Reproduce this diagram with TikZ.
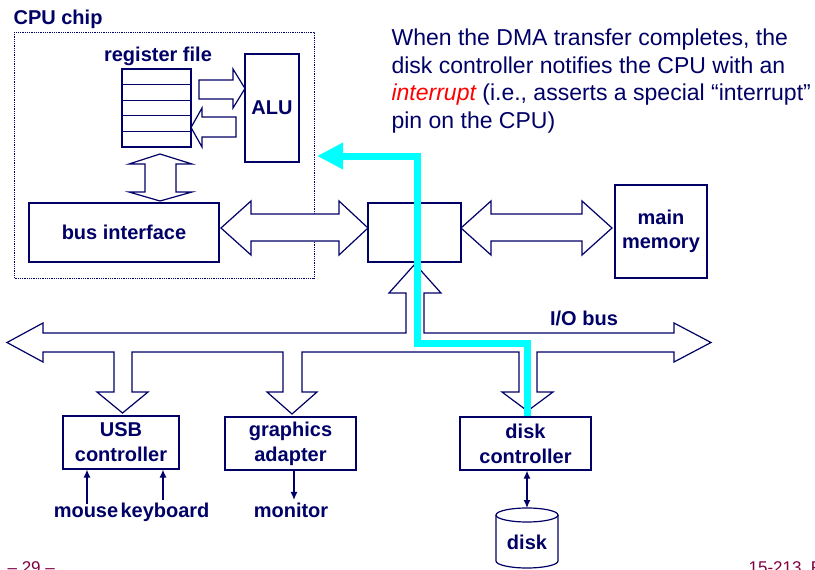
\documentclass[tikz,border=0pt]{standalone}
\usepackage{fontspec}
\setmainfont{Liberation Sans}
\usetikzlibrary{arrows.meta}
\definecolor{cpublue}{RGB}{0,0,102}
\definecolor{footred}{RGB}{128,0,64}
\definecolor{dmacyan}{RGB}{0,255,255}

\begin{document}
\begin{tikzpicture}[x=1pt,y=-1pt,
    cpublue, line width=1.2pt,
    font=\bfseries\fontsize{20}{25}\selectfont,
    box/.style={draw,align=center,inner sep=0pt},
    lbl/.style={anchor=base,inner sep=2pt},
    wire/.style={-{Latex[length=8pt,width=7pt]}},
    fat/.style={draw,fill=white}]

    \useasboundingbox (0,0) rectangle (815,570);

    % cpu chip
    \node[anchor=base west,inner sep=0pt] (cpulbl) at (13,24) {CPU chip};
    \draw[densely dotted,line width=0.8pt] (14,32) rectangle (314,278);

    % register file and alu
    \node[lbl] (reglbl) at (158,61) {register file};
    \node[box,minimum width=69pt,minimum height=78pt] (regs) at (156.5,108) {};
    \foreach \i in {1,...,4} \draw (122,69+15.6*\i) -- (191,69+15.6*\i);
    \node[box,minimum width=54pt,minimum height=108pt] (alu) at (272,108) {ALU};

    \draw[fat] (199,80) -- (233,80) -- (233,69) -- (245,88.5) -- (233,108) -- (233,99) -- (199,99) -- cycle;
    \draw[fat] (236,117) -- (202,117) -- (202,108) -- (191,127.5) -- (202,147) -- (202,137) -- (236,137) -- cycle;
    \draw[fat] (160,154) -- (192,164) -- (176,164) -- (176,192) -- (192,192) -- (160,201) -- (129,192) -- (145,192) -- (145,164) -- (129,164) -- cycle;

    % memory bus
    \node[box,minimum width=190pt,minimum height=59pt] (busif) at (124,232.5) {bus interface};
    \node[box,minimum width=93pt,minimum height=59pt] (bridge) at (414.5,232.5) {};
    \node[box,minimum width=92pt,minimum height=93pt,font=\bfseries\fontsize{20}{23.5}\selectfont] (mem) at (661,231.5) {main\\memory};

    \draw[fat] (221,228) -- (251,201) -- (251,214) -- (339,214) -- (339,201) -- (368,228) -- (339,255) -- (339,241) -- (251,241) -- (251,255) -- cycle;
    \draw[fat] (461,228) -- (491,201) -- (491,214) -- (582,214) -- (582,201) -- (612,228) -- (582,255) -- (582,241) -- (491,241) -- (491,255) -- cycle;

    % i/o bus
    \draw[fat] (43,333) -- (406,333) -- (406,293) -- (389,293) -- (415,264) -- (441,293) -- (424,293) -- (424,333)
        -- (674,333) -- (674,323) -- (711,342.5) -- (674,362) -- (674,352)
        -- (537,352) -- (537,392) -- (553,392) -- (527.5,411) -- (502,392) -- (519,392) -- (519,352)
        -- (302,352) -- (302,392) -- (317,392) -- (292,414) -- (267,392) -- (283,392) -- (283,352)
        -- (132,352) -- (132,392) -- (148,392) -- (122.5,413) -- (97,392) -- (114,392) -- (114,352)
        -- (43,352) -- (43,362) -- (7,342.5) -- (43,323) -- cycle;
    \node[lbl] (iolbl) at (584,325) {I/O bus};

    % devices
    \node[box,minimum width=116pt,minimum height=53pt] (usb) at (121,442.5) {USB\\controller};
    \node[box,minimum width=131pt,minimum height=53pt] (gfx) at (290.5,443.5) {graphics\\adapter};
    \node[box,minimum width=131pt,minimum height=53pt] (dctl) at (525.5,443.5) {disk\\controller};

    \node[lbl] (mouse) at (86,517) {mouse};
    \node[lbl] (kbd) at (165,517) {keyboard};
    \node[lbl] (mon) at (291,517) {monitor};
    \draw[wire] ([xshift=1pt]mouse.north) -- ([xshift=1pt]mouse.north |- usb.south);
    \draw[wire] ([xshift=-2pt]kbd.north) -- ([xshift=-2pt]kbd.north |- usb.south);
    \draw[wire] ([xshift=3pt]mon.north |- gfx.south) -- ([xshift=3pt]mon.north);

    % disk
    \draw (496,515) -- (496,561) arc[start angle=180,end angle=360,x radius=31pt,y radius=7pt] -- (558,515);
    \draw (527,515) ellipse[x radius=31pt,y radius=7pt];
    \node (disk) at (527,542) {disk};
    \coordinate (disktop) at (527,508);
    \draw[{Latex[length=8pt,width=7pt]}-{Latex[length=8pt,width=7pt]}] (dctl.south -| disktop) -- (disktop);

    % interrupt path
    \draw[dmacyan,line width=7pt,-{Triangle[length=26pt,width=25pt]}] ([xshift=1.5pt]dctl.north) -- (527,343) -- (417,343) -- (417,156) -- (317,156);

    \node[anchor=base west,align=left,inner sep=0pt,font=\mdseries\fontsize{23}{27.5}\selectfont] (note) at (391,128)
        {When the DMA transfer completes, the\\disk controller notifies the CPU with an\\\textcolor{red}{\itshape interrupt} (i.e., asserts a special “interrupt”\\pin on the CPU)};

    % footer
    \node[anchor=base west,inner sep=0pt,text=footred,font=\mdseries\fontsize{17}{20}\selectfont] (pgno) at (7,573.5) {– 29 –};
    \node[anchor=base west,inner sep=0pt,text=footred,font=\mdseries\fontsize{17}{20}\selectfont] (course) at (748,573.5) {15-213, F};

\end{tikzpicture}
\end{document}
